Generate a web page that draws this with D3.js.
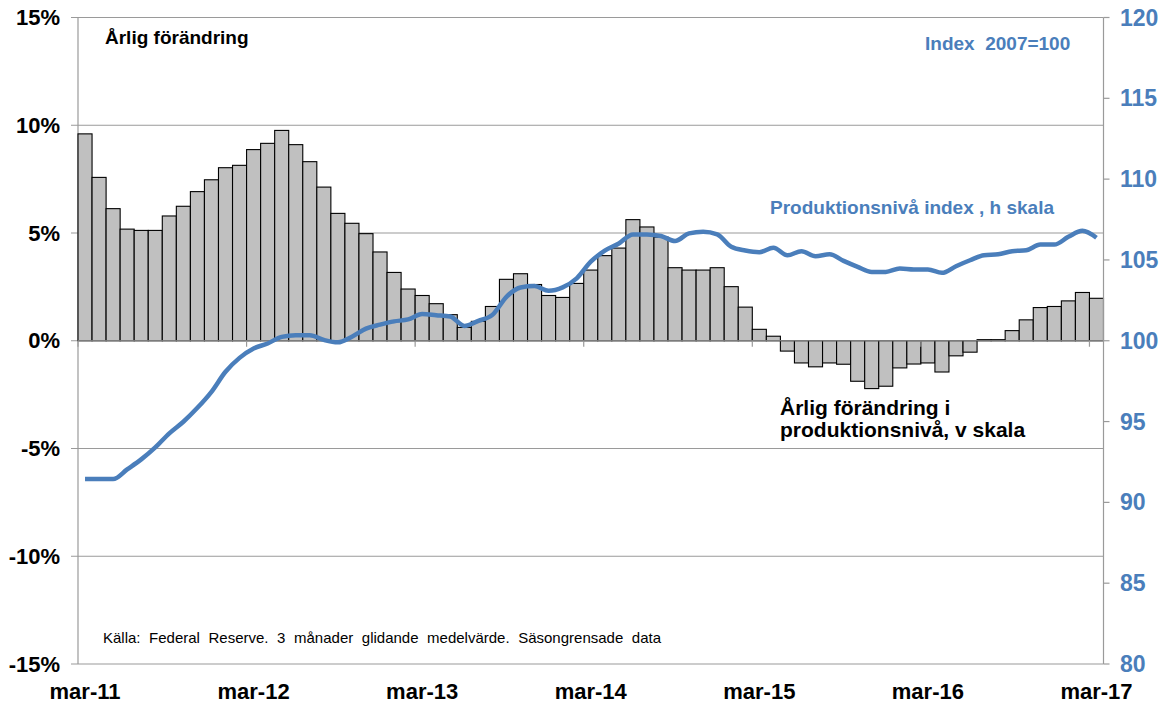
<!DOCTYPE html>
<meta charset="utf-8">
<script src="https://d3js.org/d3.v7.min.js"></script>
<style>
  body { margin: 0; background: #fff; }
  text { font-family: "Liberation Sans", Arial, sans-serif; }
</style>
<body>
<svg id="chart" width="1169" height="704"></svg>
<script>
// months mar-11 .. mar-17
const months = [
  "mar-11","apr-11","maj-11","jun-11","jul-11","aug-11","sep-11","okt-11","nov-11","dec-11","jan-12","feb-12",
  "mar-12","apr-12","maj-12","jun-12","jul-12","aug-12","sep-12","okt-12","nov-12","dec-12","jan-13","feb-13",
  "mar-13","apr-13","maj-13","jun-13","jul-13","aug-13","sep-13","okt-13","nov-13","dec-13","jan-14","feb-14",
  "mar-14","apr-14","maj-14","jun-14","jul-14","aug-14","sep-14","okt-14","nov-14","dec-14","jan-15","feb-15",
  "mar-15","apr-15","maj-15","jun-15","jul-15","aug-15","sep-15","okt-15","nov-15","dec-15","jan-16","feb-16",
  "mar-16","apr-16","maj-16","jun-16","jul-16","aug-16","sep-16","okt-16","nov-16","dec-16","jan-17","feb-17",
  "mar-17"
];
const xLabels = ["mar-11","mar-12","mar-13","mar-14","mar-15","mar-16","mar-17"];

// årlig förändring, % (vänster skala)
const change = [
  9.6, 7.58, 6.13, 5.18, 5.12, 5.12, 5.79, 6.24, 6.92, 7.47, 8.03, 8.14,
  8.87, 9.16, 9.76, 9.1, 8.31, 7.13, 5.91, 5.45, 4.97, 4.12, 3.17, 2.4,
  2.1, 1.72, 1.21, 0.62, 0.9, 1.59, 2.85, 3.11, 2.61, 2.1, 2.01, 2.66,
  3.28, 3.95, 4.3, 5.62, 5.28, 4.81, 3.39, 3.28, 3.28, 3.39, 2.51, 1.56,
  0.53, 0.21, -0.48, -1.03, -1.21, -1.03, -1.09, -1.88, -2.22, -2.11, -1.26, -1.08,
  -1.03, -1.45, -0.7, -0.53, 0.05, 0.05, 0.47, 0.97, 1.54, 1.59, 1.85, 2.24,
  1.97
];

// produktionsnivå index, 2007=100 (höger skala)
const level = [
  91.44, 91.44, 91.44, 92.04, 92.66, 93.4, 94.27, 94.99, 95.85, 96.84, 98.08, 98.94,
  99.52, 99.83, 100.24, 100.34, 100.34, 100.05, 99.9, 100.25, 100.75, 101.0, 101.2, 101.32,
  101.65, 101.58, 101.5, 100.92, 101.23, 101.6, 102.72, 103.3, 103.38, 103.09, 103.3, 103.86,
  104.89, 105.57, 106.02, 106.58, 106.58, 106.48, 106.17, 106.64, 106.74, 106.58, 105.81, 105.58,
  105.48, 105.76, 105.29, 105.54, 105.23, 105.35, 104.94, 104.57, 104.26, 104.26, 104.47, 104.41,
  104.41, 104.2, 104.61, 104.98, 105.29, 105.35, 105.54, 105.6, 105.95, 105.95, 106.43, 106.8,
  106.37
];

const leftTicks = [-15, -10, -5, 0, 5, 10, 15];
const rightTicks = [80, 85, 90, 95, 100, 105, 110, 115, 120];

const svg = d3.select("#chart");
const plotL = 78, plotR = 1103.5, plotT = 17.5, plotB = 664;
const blue = "#4a7ebb";

const x = d3.scaleBand().domain(months).range([plotL, plotR]).padding(0);
const y = d3.scaleLinear().domain([-15, 15]).range([plotB, plotT]);
const y2 = d3.scaleLinear().domain([80, 120]).range([plotB, plotT]);

// gridlines
svg.append("g")
  .selectAll("line")
  .data(leftTicks)
  .join("line")
    .attr("x1", plotL - 7).attr("x2", plotR)
    .attr("y1", d => y(d)).attr("y2", d => y(d))
    .attr("stroke", "#9a9a9a").attr("stroke-width", 1.2);

// left axis line
svg.append("line")
  .attr("x1", plotL).attr("x2", plotL).attr("y1", plotT).attr("y2", plotB)
  .attr("stroke", "#9a9a9a").attr("stroke-width", 1.2);

// left labels
svg.append("g")
  .selectAll("text")
  .data(leftTicks)
  .join("text")
    .attr("x", 60).attr("y", d => y(d))
    .attr("dy", "0.35em")
    .attr("text-anchor", "end")
    .style("font-size", "22px").style("font-weight", "bold")
    .text(d => d + "%");

// bars
svg.append("g")
  .selectAll("rect")
  .data(change)
  .join("rect")
    .attr("x", (d, i) => x(months[i]))
    .attr("width", x.bandwidth())
    .attr("y", d => y(Math.max(0, d)))
    .attr("height", d => Math.abs(y(d) - y(0)))
    .attr("fill", "#c0c0c0")
    .attr("stroke", "#000")
    .attr("stroke-width", 1.1);

// x axis at zero with year ticks
svg.append("line")
  .attr("x1", plotL).attr("x2", plotR).attr("y1", y(0)).attr("y2", y(0))
  .attr("stroke", "#9a9a9a").attr("stroke-width", 1.2);
svg.append("g")
  .selectAll("line")
  .data(xLabels)
  .join("line")
    .attr("x1", d => x(d)).attr("x2", d => x(d))
    .attr("y1", y(0)).attr("y2", y(0) + 6)
    .attr("stroke", "#9a9a9a").attr("stroke-width", 1.2);

// bottom labels
svg.append("g")
  .selectAll("text")
  .data(xLabels)
  .join("text")
    .attr("x", d => x(d) + x.bandwidth() / 2)
    .attr("y", 691)
    .attr("dy", "0.35em")
    .attr("text-anchor", "middle")
    .style("font-size", "22px").style("font-weight", "bold")
    .text(d => d);

// right axis
svg.append("line")
  .attr("x1", plotR).attr("x2", plotR).attr("y1", plotT).attr("y2", plotB)
  .attr("stroke", "#9a9a9a").attr("stroke-width", 1.2);
svg.append("g")
  .selectAll("line")
  .data(rightTicks)
  .join("line")
    .attr("x1", plotR).attr("x2", plotR + 6)
    .attr("y1", d => y2(d)).attr("y2", d => y2(d))
    .attr("stroke", "#9a9a9a").attr("stroke-width", 1.2);
svg.append("g")
  .selectAll("text")
  .data(rightTicks)
  .join("text")
    .attr("x", 1120).attr("y", d => y2(d))
    .attr("dy", "0.35em")
    .attr("fill", blue)
    .style("font-size", "23px").style("font-weight", "bold")
    .text(d => d);

// index line
const line = d3.line()
  .x((d, i) => x(months[i]) + x.bandwidth() / 2)
  .y(d => y2(d))
  .curve(d3.curveMonotoneX);

svg.append("path")
  .datum(level)
  .attr("d", line)
  .attr("fill", "none")
  .attr("stroke", blue)
  .attr("stroke-width", 4.5)
  .attr("stroke-linejoin", "round");

// annotations
const note = (txt, px, py, col, size, weight) =>
  svg.append("text")
    .attr("x", px).attr("y", py)
    .attr("fill", col)
    .style("font-size", size).style("font-weight", weight)
    .style("white-space", "pre")
    .text(txt);

note("Årlig förändring", 105, 44, "#000", "19px", "bold");
note("Index  2007=100", 925, 50, blue, "19px", "bold");
note("Produktionsnivå index , h skala", 770, 214, blue, "19px", "bold");
note("Årlig förändring i", 780, 415, "#000", "21px", "bold");
note("produktionsnivå, v skala", 780, 437, "#000", "21px", "bold");
note("Källa: Federal Reserve. 3 månader glidande medelvärde. Säsongrensade data", 103, 643, "#000", "15px", "normal")
  .style("word-spacing", "4.4px");
</script>
</body>
